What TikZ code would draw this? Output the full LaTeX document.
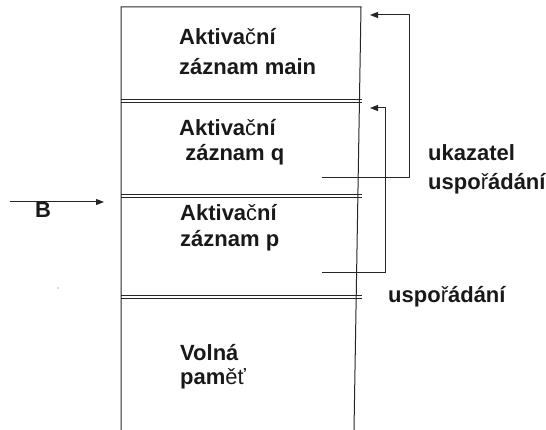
\documentclass[tikz,border=0pt]{standalone}
\usepackage{fontspec}
\setmainfont{Liberation Sans}
\usetikzlibrary{arrows.meta}
\newcommand\lt[1]{{\mdseries #1}}
\tikzset{
  wall/.style={line width=1pt, black!85},
  dbl/.style={line width=0.8pt, black!85},
  lbl/.style={font=\bfseries\fontsize{22}{24}\selectfont, align=left, anchor=base west, inner sep=0pt, text=black!90},
  ptr/.style={line width=1pt, black!85, -{Triangle[length=8pt,width=6pt]}},
}
\begin{document}
\begin{tikzpicture}[x=1pt,y=-1pt]
\useasboundingbox (0,0) rectangle (546,430);
% walls
\coordinate (tl) at (121,7);
\coordinate (tr) at (361,7);
\coordinate (bl) at (121,430);
\coordinate (br) at (354,430);
\draw[wall] (bl) -- (tl) -- (tr) -- (br);
% double separators
\foreach \y/\n in {99/a,194/b,295/c}{
  \coordinate (s\n l) at (121,\y);
  \coordinate (s\n r) at (362,\y);
  \draw[dbl] (s\n l) -- (s\n r);
  \draw[dbl] ([yshift=-3pt]s\n l) -- ([yshift=-3pt]s\n r);
}
% texts (base anchor = baseline of the last line)
\node[lbl] (main) at (179,75) {Aktiva\lt{č}ní\\[6pt]záznam main};
\node[lbl] (q) at (179,161) {Aktiva\lt{č}ní\\[1pt]\ záznam q};
\node[lbl] (p) at (180,247) {Aktiva\lt{č}ní\\[2pt]záznam p};
\node[lbl] (free) at (180,384) {Volná\\pam\lt{ěť}};
\node[lbl] (uk) at (428,190) {ukazatel\\[5pt]uspo\lt{ř}ádání};
\node[lbl] (us) at (388,302) {uspo\lt{ř}ádání};
% pointers
\coordinate (q0) at (322,178);
\coordinate (q1) at (409,178);
\coordinate (q2) at (409,15);
\coordinate (q3) at (370,15);
\draw[ptr] (q0) -- (q1) -- (q2) -- (q3);
\coordinate (p0) at (322,273);
\coordinate (p1) at (385,273);
\coordinate (p2) at (385,108);
\coordinate (p3) at (370,108);
\draw[ptr] (p0) -- (p1) -- (p2) -- (p3);
% B
\coordinate (b0) at (10,202);
\coordinate (b1) at (104,202);
\draw[ptr] (b0) -- (b1);
\node[lbl] (B) at (35,218) {B};
\fill[black!60] (58,288) circle (0.6pt);
\end{tikzpicture}
\end{document}
